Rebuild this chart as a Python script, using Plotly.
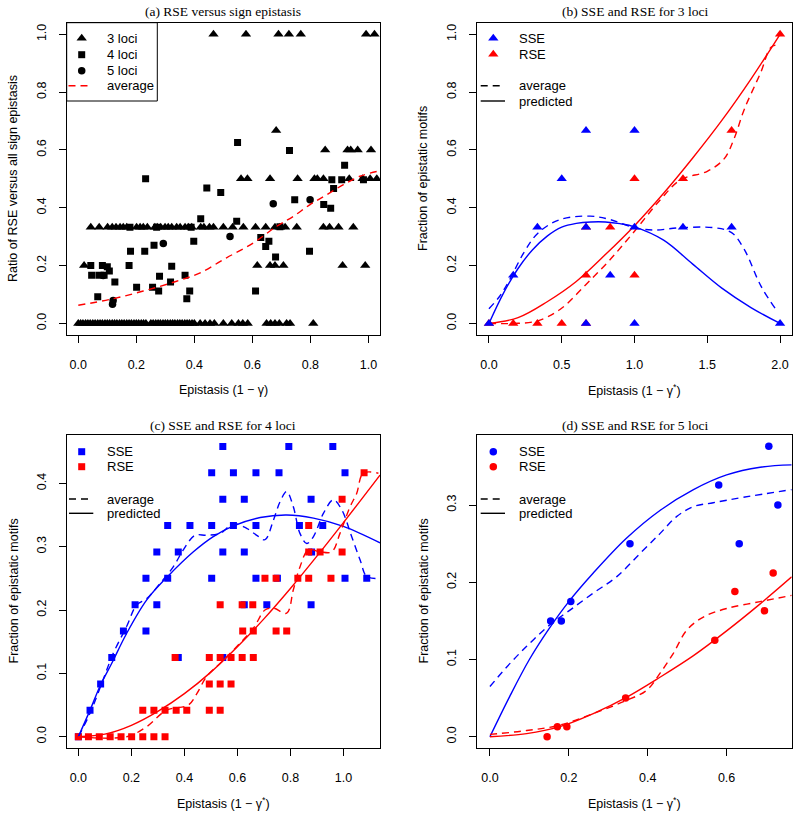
import plotly.graph_objects as go

W, H = 799, 838

# ---------------- data ----------------
# (a) RSE versus sign epistasis
a3_x = [0.466, 0.578, 0.690, 0.726, 0.767, 0.992, 1.021,
        0.682,
        0.851, 0.928, 0.939, 0.963, 1.009,
        0.561, 0.583, 0.661, 0.756, 0.814, 0.824, 0.845, 0.934, 0.980, 1.006, 1.029,
        0.043, 0.072, 0.101, 0.117, 0.130, 0.144, 0.155, 0.167, 0.201, 0.213, 0.224,
        0.238, 0.264, 0.272, 0.284, 0.299, 0.310, 0.322, 0.339, 0.351, 0.368, 0.379,
        0.391, 0.422, 0.433, 0.452, 0.466, 0.500, 0.532, 0.569, 0.611, 0.646, 0.678,
        0.695, 0.713, 0.753, 0.845, 0.866, 0.897, 0.948,
        0.020, 0.617, 0.661, 0.678, 0.707, 0.911, 0.989,
        0.000, 0.008, 0.016, 0.025, 0.033, 0.041, 0.050, 0.058, 0.067, 0.075, 0.083,
        0.092, 0.100, 0.108, 0.117, 0.125, 0.133, 0.142, 0.150, 0.158, 0.167, 0.175,
        0.183, 0.192, 0.200, 0.208, 0.217, 0.225, 0.233, 0.250, 0.258, 0.267, 0.275,
        0.283, 0.292, 0.300, 0.308, 0.317, 0.325, 0.333, 0.342, 0.350, 0.358, 0.367,
        0.375, 0.383, 0.392, 0.400, 0.420, 0.437, 0.454, 0.469, 0.500, 0.529, 0.552,
        0.567, 0.584, 0.649, 0.663, 0.678, 0.693, 0.718, 0.730, 0.810]
a3_y = [1.0] * 7 + [0.667] + [0.6] * 5 + [0.5] * 11 + [0.333] * 40 + [0.2] * 7 + [0.0] * 65

a4_x = [0.043, 0.046, 0.067, 0.071, 0.083, 0.089, 0.100, 0.107, 0.126, 0.175, 0.178,
        0.180, 0.201, 0.229, 0.232, 0.256, 0.261, 0.270, 0.277, 0.280, 0.318, 0.322,
        0.368, 0.374, 0.384, 0.389, 0.398, 0.422, 0.443, 0.491, 0.546, 0.549, 0.611,
        0.629, 0.646, 0.657, 0.680, 0.695, 0.728, 0.746, 0.797, 0.846, 0.870, 0.874,
        0.880, 0.908, 0.918, 0.983]
a4_y = [0.200, 0.167, 0.092, 0.167, 0.200, 0.167, 0.196, 0.181, 0.143, 0.200, 0.333,
        0.250, 0.125, 0.250, 0.500, 0.125, 0.270, 0.333, 0.112, 0.163, 0.143, 0.198,
        0.167, 0.085, 0.112, 0.333, 0.284, 0.362, 0.468, 0.453, 0.353, 0.626, 0.112,
        0.297, 0.266, 0.284, 0.230, 0.334, 0.598, 0.428, 0.250, 0.411, 0.398, 0.497,
        0.467, 0.497, 0.547, 0.497]

a5_x = [0.086, 0.120, 0.118, 0.293, 0.523, 0.672, 0.799]
a5_y = [0.166, 0.079, 0.066, 0.276, 0.301, 0.414, 0.428]

a_avg_x = [0.0, 0.109, 0.224, 0.339, 0.420, 0.511, 0.603, 0.684, 0.741, 0.799, 0.856, 0.914, 0.971, 1.040]
a_avg_y = [0.063, 0.083, 0.112, 0.146, 0.175, 0.227, 0.278, 0.336, 0.370, 0.411, 0.445, 0.480, 0.509, 0.528]

# (b) SSE and RSE for 3 loci
b_sse_x = [0, 0.167, 0.333, 0.5, 0.667, 0.667, 0.667, 0.833, 1, 1, 1, 1.333, 1.667, 2]
b_sse_y = [0, 0.167, 0.333, 0.5, 0.667, 0.333, 0, 0.167, 0.667, 0.333, 0, 0.333, 0.333, 0]
b_rse_x = [0, 0.167, 0.333, 0.5, 0.667, 0.667, 0.667, 0.833, 1, 1, 1.333, 1.667, 2]
b_rse_y = [0, 0, 0, 0, 0, 0.167, 0.333, 0.333, 0.5, 0.167, 0.5, 0.667, 1.0]

b_pred_sse_x = [0, 0.1, 0.2, 0.3, 0.4, 0.5, 0.6, 0.7, 0.8, 0.9, 1.0, 1.2, 1.4, 1.6, 1.8, 2.0]
b_pred_sse_y = [0, 0.105, 0.19, 0.255, 0.302, 0.333, 0.346, 0.351, 0.351, 0.345, 0.334, 0.288, 0.205, 0.122, 0.055, 0.0]
b_avg_sse_x = [0, 0.074, 0.143, 0.24, 0.338, 0.488, 0.695, 0.833, 1.0, 1.133, 1.317, 1.547, 1.667, 1.754, 1.869, 1.972]
b_avg_sse_y = [0.051, 0.094, 0.152, 0.245, 0.313, 0.359, 0.371, 0.359, 0.331, 0.323, 0.331, 0.331, 0.314, 0.256, 0.129, 0.048]
b_pred_rse_x = [0, 0.2, 0.4, 0.6, 0.8, 1.0, 1.2, 1.4, 1.6, 1.8, 2.0]
b_pred_rse_y = [0, 0.02, 0.075, 0.145, 0.238, 0.338, 0.45, 0.572, 0.702, 0.845, 1.0]
b_avg_rse_x = [0, 0.166, 0.327, 0.488, 0.667, 0.833, 1.0, 1.178, 1.317, 1.5, 1.617, 1.685, 1.754, 1.869, 1.938, 2.0]
b_avg_rse_y = [0, 0, 0.008, 0.048, 0.135, 0.221, 0.319, 0.428, 0.497, 0.526, 0.57, 0.64, 0.74, 0.87, 0.955, 0.965]

# (c) SSE and RSE for 4 loci
c_sse_x = [0.0, 0.044, 0.084,
           0.126, 0.377, 0.545,
           0.170, 0.255,
           0.214, 0.296, 0.626, 0.711, 0.878,
           0.255, 0.337, 0.503, 0.670, 0.751, 1.006, 1.088,
           0.296, 0.377, 0.545, 0.626, 0.880,
           0.337, 0.421, 0.503, 0.585, 0.670, 0.834, 0.922,
           0.545, 0.626, 0.878,
           0.503, 0.585, 0.670, 0.757, 1.006,
           0.545, 0.794, 0.960]
c_sse_y = [0.0, 0.0417, 0.0833,
           0.125, 0.125, 0.125,
           0.1667, 0.1667,
           0.2083, 0.2083, 0.2083, 0.2083, 0.2083,
           0.25, 0.25, 0.25, 0.25, 0.25, 0.25, 0.25,
           0.2917, 0.2917, 0.2917, 0.2917, 0.2917,
           0.3333, 0.3333, 0.3333, 0.3333, 0.3333, 0.3333, 0.3333,
           0.375, 0.375, 0.375,
           0.4167, 0.4167, 0.4167, 0.4167, 0.4167,
           0.4583, 0.4583, 0.4583]
c_rse_x = [0.0, 0.038, 0.079, 0.120, 0.161, 0.201, 0.243, 0.285, 0.327,
           0.243, 0.285, 0.327, 0.369, 0.409, 0.494, 0.535,
           0.494, 0.535, 0.576,
           0.365, 0.494, 0.535, 0.576, 0.618, 0.660,
           0.620, 0.660, 0.746, 0.786,
           0.535, 0.618, 0.658,
           0.704, 0.746, 0.828, 0.869, 0.953,
           0.869, 0.912, 0.995,
           0.869,
           0.995,
           1.078]
c_rse_y = [0.0] * 9 + [0.0417] * 7 + [0.0833] * 3 + [0.125] * 6 + [0.1667] * 4 + \
          [0.2083] * 3 + [0.25] * 5 + [0.2917] * 3 + [0.3333] + [0.375] + [0.4167]

c_pred_sse_x = [0, 0.044, 0.084, 0.126, 0.182, 0.258, 0.337, 0.434, 0.509, 0.585, 0.686, 0.786, 0.887, 1.0, 1.138]
c_pred_sse_y = [0, 0.042, 0.082, 0.116, 0.163, 0.216, 0.253, 0.292, 0.316, 0.333, 0.346, 0.350, 0.345, 0.332, 0.306]
c_avg_sse_x = [0, 0.044, 0.088, 0.132, 0.182, 0.22, 0.258, 0.308, 0.358, 0.396, 0.44, 0.484, 0.535, 0.585,
               0.635, 0.673, 0.704, 0.736, 0.761, 0.786, 0.811, 0.836, 0.862, 0.887, 0.925, 0.962, 0.994,
               1.031, 1.063, 1.088, 1.132]
c_avg_sse_y = [0, 0.037, 0.084, 0.132, 0.174, 0.208, 0.218, 0.242, 0.268, 0.295, 0.318, 0.318, 0.321, 0.336,
               0.329, 0.318, 0.311, 0.342, 0.371, 0.387, 0.363, 0.321, 0.305, 0.316, 0.353, 0.374, 0.358,
               0.316, 0.279, 0.253, 0.25]
c_pred_rse_x = [0, 0.1, 0.2, 0.3, 0.4, 0.5, 0.6, 0.7, 0.8, 0.9, 1.0, 1.138]
c_pred_rse_y = [0, 0.004, 0.018, 0.04, 0.068, 0.102, 0.142, 0.186, 0.234, 0.285, 0.338, 0.413]
c_avg_rse_x = [0, 0.182, 0.258, 0.333, 0.415, 0.447, 0.484, 0.535, 0.597, 0.66, 0.704, 0.736, 0.786, 0.811,
               0.836, 0.868, 0.912, 0.956, 0.987, 1.025, 1.05, 1.075, 1.132]
c_avg_rse_y = [0, 0, 0.016, 0.042, 0.05, 0.068, 0.095, 0.116, 0.142, 0.171, 0.2, 0.203, 0.195, 0.232,
               0.268, 0.295, 0.292, 0.292, 0.321, 0.363, 0.384, 0.416, 0.416]

# (d) SSE and RSE for 5 loci
d_sse_x = [0.154, 0.181, 0.205, 0.355, 0.580, 0.632, 0.707, 0.730]
d_sse_y = [0.150, 0.150, 0.175, 0.250, 0.326, 0.250, 0.376, 0.300]
d_rse_x = [0.145, 0.171, 0.195, 0.344, 0.570, 0.621, 0.696, 0.718]
d_rse_y = [0.000, 0.013, 0.013, 0.050, 0.125, 0.188, 0.163, 0.212]

d_pred_sse_x = [0, 0.05, 0.1, 0.15, 0.2, 0.262, 0.346, 0.431, 0.516, 0.6, 0.685, 0.765]
d_pred_sse_y = [0, 0.052, 0.1, 0.14, 0.175, 0.212, 0.257, 0.293, 0.32, 0.339, 0.349, 0.352]
d_avg_sse_x = [0, 0.051, 0.101, 0.152, 0.203, 0.262, 0.321, 0.38, 0.431, 0.473, 0.516, 0.566, 0.642, 0.765]
d_avg_sse_y = [0.065, 0.095, 0.121, 0.145, 0.164, 0.186, 0.207, 0.237, 0.263, 0.285, 0.298, 0.303, 0.31, 0.32]
d_pred_rse_x = [0, 0.093, 0.177, 0.262, 0.346, 0.431, 0.516, 0.6, 0.685, 0.765]
d_pred_rse_y = [0, 0.004, 0.013, 0.03, 0.051, 0.077, 0.105, 0.137, 0.172, 0.207]
d_avg_rse_x = [0, 0.093, 0.177, 0.262, 0.346, 0.397, 0.431, 0.465, 0.499, 0.541, 0.6, 0.685, 0.765]
d_avg_rse_y = [0.003, 0.008, 0.015, 0.03, 0.047, 0.06, 0.082, 0.108, 0.138, 0.155, 0.166, 0.175, 0.183]

titles = ["(a) RSE versus sign epistasis", "(b) SSE and RSE for 3 loci",
          "(c) SSE and RSE for 4 loci", "(d) SSE and RSE for 5 loci"]

# ---------------- layout helpers ----------------
BLUE, RED, BLACK = "#0000FF", "#FF0000", "#000000"
SANS = "Liberation Sans, Arial, sans-serif"
SERIF = "Liberation Serif, Times New Roman, serif"

LEFT_X = (66.7, 380.0)
RIGHT_X = (477.3, 791.7)
TOP_Y = (22.7, 335.0)
BOT_Y = (435.0, 748.0)


def pxx(x):
    return x / W


def pyy(y):
    return 1 - y / H


def dom_x(r):
    return [pxx(r[0]), pxx(r[1])]


def dom_y(r):
    return [pyy(r[1]), pyy(r[0])]


fig = go.Figure()

TRI, SQ, CIR = 9, 7, 7.5


def pts(x, y, ax, symbol, size, color):
    fig.add_trace(go.Scatter(x=x, y=y, mode="markers", xaxis=ax[0], yaxis=ax[1],
                             marker=dict(symbol=symbol, size=size, color=color, line=dict(width=0)),
                             showlegend=False, hoverinfo="skip"))


def line(x, y, ax, color, dashed):
    fig.add_trace(go.Scatter(x=x, y=y, mode="lines", xaxis=ax[0], yaxis=ax[1],
                             line=dict(color=color, width=1.4, shape="spline", smoothing=1.0,
                                       dash="7px,5px" if dashed else "solid"),
                             showlegend=False, hoverinfo="skip"))


A, B, C, D = ("x", "y"), ("x2", "y2"), ("x3", "y3"), ("x4", "y4")

# panel a
pts(a3_x, a3_y, A, "triangle-up", TRI, BLACK)
pts(a4_x, a4_y, A, "square", SQ, BLACK)
pts(a5_x, a5_y, A, "circle", CIR, BLACK)
line(a_avg_x, a_avg_y, A, RED, True)

# panel b
line(b_avg_sse_x, b_avg_sse_y, B, BLUE, True)
line(b_pred_sse_x, b_pred_sse_y, B, BLUE, False)
line(b_avg_rse_x, b_avg_rse_y, B, RED, True)
line(b_pred_rse_x, b_pred_rse_y, B, RED, False)
pts(b_rse_x, b_rse_y, B, "triangle-up", TRI, RED)
pts(b_sse_x, b_sse_y, B, "triangle-up", TRI, BLUE)

# panel c
pts(c_sse_x, c_sse_y, C, "square", SQ, BLUE)
pts(c_rse_x, c_rse_y, C, "square", SQ, RED)
line(c_avg_sse_x, c_avg_sse_y, C, BLUE, True)
line(c_pred_sse_x, c_pred_sse_y, C, BLUE, False)
line(c_avg_rse_x, c_avg_rse_y, C, RED, True)
line(c_pred_rse_x, c_pred_rse_y, C, RED, False)

# panel d
pts(d_sse_x, d_sse_y, D, "circle", CIR, BLUE)
pts(d_rse_x, d_rse_y, D, "circle", CIR, RED)
line(d_avg_sse_x, d_avg_sse_y, D, BLUE, True)
line(d_pred_sse_x, d_pred_sse_y, D, BLUE, False)
line(d_avg_rse_x, d_avg_rse_y, D, RED, True)
line(d_pred_rse_x, d_pred_rse_y, D, RED, False)

# ---------------- legends (drawn on a pixel overlay axis) ----------------
leg_pts = [
    (81.7, 38.3, "triangle-up", TRI, BLACK), (81.7, 54.7, "square", SQ, BLACK), (81.7, 70.7, "circle", CIR, BLACK),
    (493.3, 38.3, "triangle-up", TRI, BLUE), (493.3, 54.3, "triangle-up", TRI, RED),
    (81.7, 451.7, "square", SQ, BLUE), (81.7, 466.7, "square", SQ, RED),
    (493.3, 451.7, "circle", CIR, BLUE), (493.3, 466.7, "circle", CIR, RED),
]
for (lx, ly, sym, sz, col) in leg_pts:
    fig.add_trace(go.Scatter(x=[lx], y=[ly], mode="markers", xaxis="x5", yaxis="y5",
                             marker=dict(symbol=sym, size=sz, color=col, line=dict(width=0)),
                             showlegend=False, hoverinfo="skip"))

shapes = []
annotations = []


def hline(x0, x1, y, color, dashed):
    shapes.append(dict(type="line", xref="paper", yref="paper", x0=pxx(x0), x1=pxx(x1), y0=pyy(y), y1=pyy(y),
                       line=dict(color=color, width=1.4, dash="7px,5px" if dashed else "solid")))


def text(t, x, y, size=13, family=SANS, xanchor="left", angle=0):
    annotations.append(dict(text=t, x=pxx(x), y=pyy(y), xref="paper", yref="paper", showarrow=False,
                            xanchor=xanchor, yanchor="middle", textangle=angle,
                            font=dict(family=family, size=size, color="black")))


# legend box (a)
shapes.append(dict(type="rect", xref="paper", yref="paper", x0=pxx(66.7), x1=pxx(157.3), y0=pyy(101), y1=pyy(22.7),
                   line=dict(color="black", width=1)))
for t, yy in [("3 loci", 38.3), ("4 loci", 54.7), ("5 loci", 70.7), ("average", 85.7)]:
    text(t, 105, yy)
hline(68.5, 89, 85.7, RED, True)

# legend (b)
for t, yy in [("SSE", 38.3), ("RSE", 54.3), ("average", 85.7), ("predicted", 101)]:
    text(t, 516.7, yy)
hline(480.7, 500, 85.7, BLACK, True)
hline(480.7, 505, 101, BLACK, False)

# legend (c)
for t, yy in [("SSE", 451.7), ("RSE", 466.7), ("average", 499), ("predicted", 513.3)]:
    text(t, 105, yy)
hline(69, 90, 499, BLACK, True)
hline(69, 93.3, 513.3, BLACK, False)

# legend (d)
for t, yy in [("SSE", 451.7), ("RSE", 466.7), ("average", 499), ("predicted", 513.3)]:
    text(t, 516.7, yy)
hline(480.7, 500, 499, BLACK, True)
hline(480.7, 505, 513.3, BLACK, False)

# panel titles
TS = 13.5
text(titles[0], 223.3, 12, size=TS, family=SERIF, xanchor="center")
text(titles[1], 634.5, 12, size=TS, family=SERIF, xanchor="center")
text(titles[2], 223.3, 425, size=TS, family=SERIF, xanchor="center")
text(titles[3], 634.5, 425, size=TS, family=SERIF, xanchor="center")

# axis titles
XT1 = "Epistasis (1 \u2212 \u03b3)"
XT2 = "Epistasis (1 \u2212 \u03b3<sup>*</sup>)"
text(XT1, 223.3, 390, size=12.5, xanchor="center")
text(XT2, 634.5, 390, size=12.5, xanchor="center")
text(XT2, 223.3, 803, size=12.5, xanchor="center")
text(XT2, 634.5, 803, size=12.5, xanchor="center")
text("Ratio of RSE versus all sign epistasis", 13, 179, size=12.5, xanchor="center", angle=-90)
text("Fraction of epistatic motifs", 423, 179, size=12.5, xanchor="center", angle=-90)
text("Fraction of epistatic motifs", 13, 591.5, size=12.5, xanchor="center", angle=-90)
text("Fraction of epistatic motifs", 423, 591.5, size=12.5, xanchor="center", angle=-90)

# ---------------- axes ----------------
ax_common = dict(showline=True, mirror=True, linecolor="black", linewidth=1, ticks="outside", ticklen=7,
                 tickwidth=1, tickcolor="black", showgrid=False, zeroline=False, tickformat=".1f",
                 tickfont=dict(family=SANS, size=12.5, color="black"))


def xax(domain, rng, tv, anchor):
    d = dict(ax_common)
    d.update(domain=domain, range=rng, tickvals=tv, ticklabelstandoff=11, anchor=anchor)
    return d


def yax(domain, rng, tv, anchor):
    d = dict(ax_common)
    d.update(domain=domain, range=rng, tickvals=tv, tickangle=-90, ticklabelstandoff=8, anchor=anchor)
    return d


fig.update_layout(
    width=W, height=H, margin=dict(l=0, r=0, t=0, b=0),
    paper_bgcolor="white", plot_bgcolor="rgba(0,0,0,0)", showlegend=False,
    xaxis=xax(dom_x(LEFT_X), [-0.04, 1.04], [0, 0.2, 0.4, 0.6, 0.8, 1.0], "y"),
    yaxis=yax(dom_y(TOP_Y), [-0.04, 1.04], [0, 0.2, 0.4, 0.6, 0.8, 1.0], "x"),
    xaxis2=xax(dom_x(RIGHT_X), [-0.08, 2.08], [0, 0.5, 1.0, 1.5, 2.0], "y2"),
    yaxis2=yax(dom_y(TOP_Y), [-0.04, 1.04], [0, 0.2, 0.4, 0.6, 0.8, 1.0], "x2"),
    xaxis3=xax(dom_x(LEFT_X), [-0.044, 1.138], [0, 0.2, 0.4, 0.6, 0.8, 1.0], "y3"),
    yaxis3=yax(dom_y(BOT_Y), [-0.0178, 0.4763], [0, 0.1, 0.2, 0.3, 0.4], "x3"),
    xaxis4=xax(dom_x(RIGHT_X), [-0.032, 0.765], [0, 0.2, 0.4, 0.6], "y4"),
    yaxis4=yax(dom_y(BOT_Y), [-0.0146, 0.3907], [0, 0.1, 0.2, 0.3], "x4"),
    xaxis5=dict(domain=[0, 1], range=[0, W], visible=False, anchor="y5", fixedrange=True),
    yaxis5=dict(domain=[0, 1], range=[H, 0], visible=False, anchor="x5", fixedrange=True),
    shapes=shapes, annotations=annotations,
)

fig.write_html("out.html")
